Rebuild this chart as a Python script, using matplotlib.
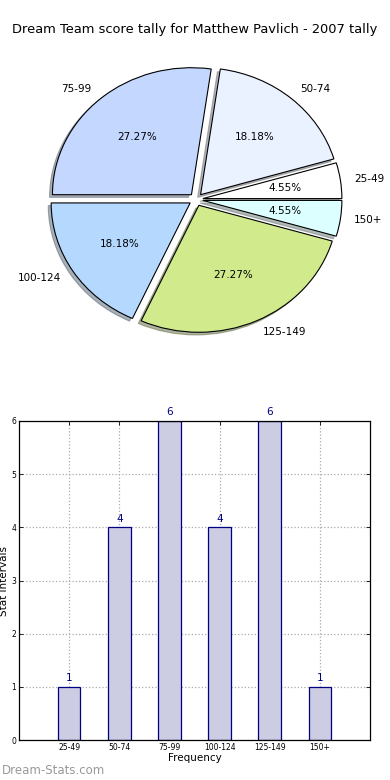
import matplotlib
matplotlib.use("Agg")
import matplotlib.pyplot as plt

categories = ["25-49", "50-74", "75-99", "100-124", "125-149", "150+"]
counts = [1, 4, 6, 4, 6, 1]
pie_colors = ["#ffffff", "#eaf1ff", "#c4d8ff", "#b5d8ff", "#d0ea8c", "#dcffff"]

title = "Dream Team score tally for Matthew Pavlich - 2007 tally"

fig = plt.figure(figsize=(3.9, 7.8), dpi=100)

# Pie (slightly squashed vertically, like the reference)
Rx, Ry = 139.0, 127.0
cx, cy = 196.0, 780 - 199.5
ax1 = fig.add_axes([0, 400 / 780, 1, 380 / 780])
ax1.axis("off")
wedges, texts, autotexts = ax1.pie(
    counts, labels=categories, colors=pie_colors, autopct="%.2f%%",
    explode=[0.05] * len(counts),
    shadow=dict(ox=-0.015, oy=-0.015, shade=0.55), startangle=0,
    wedgeprops=dict(edgecolor="black", linewidth=0.8),
    textprops=dict(fontsize=7.5), frame=False)
ax1.set_aspect("auto")
ax1.set_xlim(-cx / Rx, (390 - cx) / Rx)
ax1.set_ylim((400 - cy) / Ry, (780 - cy) / Ry)
fig.text(0.5, 1 - 30 / 780, title, ha="center", va="center", fontsize=9.4)

# Bar chart
ax2 = fig.add_axes([19 / 390, 40 / 780, 351 / 390, 319 / 780])
pos = list(range(1, len(categories) + 1))
ax2.bar(pos, counts, width=0.45, color="#ccccE3", edgecolor="#000080", linewidth=0.9, zorder=2)
for p, c in zip(pos, counts):
    ax2.text(p, c + 0.07, str(c), ha="center", va="bottom", color="#000080", fontsize=7.5)
ax2.set_xlim(0, 7)
ax2.set_ylim(0, 6)
ax2.set_xticks(pos)
ax2.set_xticklabels(categories, fontsize=5.5)
ax2.set_yticks(range(0, 7))
ax2.tick_params(axis="y", labelsize=5.5)
ax2.tick_params(direction="in", top=True, right=True, length=3, width=0.6, pad=2)
ax2.grid(True, linestyle=":", color="#aaaaaa", linewidth=0.9, zorder=0)
ax2.set_axisbelow(True)
ax2.set_xlabel("Frequency", fontsize=7.5, labelpad=1)
ax2.set_ylabel("Stat Intervals", fontsize=7.5, labelpad=2)
for s in ax2.spines.values():
    s.set_linewidth(0.9)

fig.text(2 / 390, 1 - 771 / 780, "Dream-Stats.com", ha="left", va="center",
         fontsize=8.5, color="#999999")

fig.savefig("out.png", dpi=100)
